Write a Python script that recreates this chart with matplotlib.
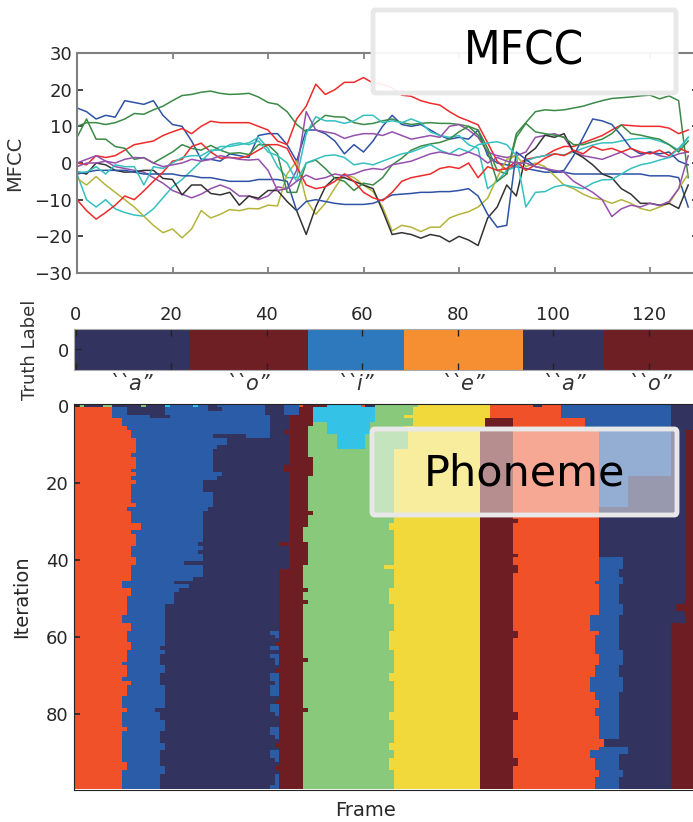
import numpy as np
import matplotlib
matplotlib.use("Agg")
import matplotlib.pyplot as plt
from matplotlib.colors import ListedColormap
from matplotlib.patches import FancyBboxPatch

# ---------------- data ----------------
FRAMES = np.arange(0, 130, 2)

blue_a = [15, 14, 12, 13, 12.5, 17, 16.5, 16, 17, 13,
          10.5, 10, 6, 1, 1, 0.5, 2.5, 2, 1.5, 7.5,
          8, 8, 5, 0.5, 9, 9, 8, 6, 2.5, 5,
          3, 6, 10, 13, 10.5, 10, 10.5, 9, 7.5, 6.5,
          7, 6.5, 9, 2, 0, -0.5, -1, -1.5, -2, -2.5,
          -2.5, -2.5, -3, -3, -3, -3, -3, -3, -3, -3,
          -3.5, -3.5, -3.5, -4, -12]
blue_b = [-3, -2.5, -2, -2, -2, -2, -2.5, -3, -3, -3,
          -3, -3.5, -3.5, -4, -4, -4.5, -5, -5, -5, -4.5,
          -4.5, -4.5, -5, -13, -10.5, -10, -10.5, -11, -11.3, -11.3,
          -11.3, -11, -10, -8.7, -8.5, -8.3, -8, -8, -7.8, -7.8,
          -7.5, -7, -9, -14, -17.5, -17, 3, 1, -1, -1.5,
          -2.5, -2, 2, 7, 12, 11.5, 10.5, 7.5, 4, 2.5,
          3, 2.5, 3, 0.5, -0.5]
green_a = [10, 11, 11, 10.5, 11, 12, 13.5, 13.3, 14.5, 15.5,
           17, 18.4, 18.7, 19.3, 19.6, 19, 18.7, 18.8, 19, 18,
           16.5, 16, 14, 10.5, 8.5, 11, 13, 12.6, 12.5, 11,
           10.5, 10.8, 11.5, 12, 11, 10.5, 10.8, 11, 10.8, 10.8,
           10.5, 10, 9, 4, -2, -3, 8, 11, 14, 14.5,
           14.3, 14.5, 15, 15.5, 16.3, 17, 17.6, 17.8, 18, 18.3,
           18.5, 17.5, 18.3, 17, -4]
green_b = [7, 12, 6.5, 6.5, 4.5, 4, 1, 1.5, 0, 1.5,
           3, 5, 4, 3.5, 4.8, 3.5, 2.6, 2.8, 2.3, 5,
           5, 2.5, -8, -8, 0, 0.8, -1.5, -4.2, -5, -7.5,
           -5.5, -6, -4, -0.5, 1.3, 3.5, 4.6, 5.2, 5.6, 6.5,
           8.5, 10, 7.6, 3, -5, -3, 7, 10.8, 8.5, 8,
           7.6, 7, 5, 5, 5.8, 6.5, 8, 10.4, 8, 7.6,
           7, 6.5, 5, 3, 6]
red_a = [0, -0.5, 2, 1.5, 2, 3.5, 5, 5.5, 6, 7.5,
         8.5, 9.4, 8, 10, 11.4, 11, 11, 11, 11, 10,
         9, 6, 5, 12, 15.5, 21.5, 18.7, 20, 22, 22,
         23.3, 21.8, 21.5, 20.5, 18.5, 18.2, 17, 16.3, 15.8, 14,
         12.5, 11.5, 10.4, 5.5, 0.5, -2, -0.5, 1, 1.5, 2,
         3.5, 4.5, 4.5, 5.5, 6.5, 7.5, 9, 10.4, 10.2, 10,
         10, 10, 9.5, 8, 9]
red_b = [-10, -13, -15.3, -13.5, -11.5, -9, -10, -7.6, -5, -2.5,
         0.5, 1, 4.5, 5.4, 3, 1.3, 1.5, 1.3, 2, 3.5,
         5, 5, 4, -1, -6, -7, -6.5, -5, -3, -5,
         -8, -9.5, -10.3, -8, -5, -4, -3.5, -3, -1.5, -1,
         -1.5, 0, -4, -1, -2, -1.5, 0.5, -2, -0.5, 1.3,
         2.5, 2, 3.5, 2.5, 4.5, 3.5, 4, 3, 4, 3,
         2.5, 3.5, 2, 4, 3]
cyan_a = [-3, -10, -12, -10, -12.5, -13.5, -14.2, -14.5, -12.5, -9.5,
          -6.5, -4.5, -2, 0.5, 3, 4.5, 4.5, 5, 5.5, 7,
          4, -1, -4, -4, 8, 12.6, 11.5, 11.5, 10.8, 11.5,
          13, 13, 11, 11.5, 11, 12, 11, 8.5, 7.5, 7,
          7.5, 5, 4, -7, -5, -2, -1, 0.5, 1.5, 2,
          2.5, 2.2, 3, 4, 4.9, 5.5, 5.5, 6, 6.5, 6.7,
          6.7, 6, 5, 3.5, 7]
cyan_b = [-2.5, -2.5, -1, -3, -0.5, -1, -1, -6, -1, -1.5,
          0, 1.5, 2, 2, 3.5, 3.5, 5, 5.5, 5, 6,
          3, 2, 0, -5, 0, 1, 2, 2.2, 1.5, -0.5,
          0, -0.5, 0.5, 1.5, 2.5, 3, 4, 5, 3.5, 2.5,
          4, 3, 5, 5.5, 5.8, 5, 2, -12, -8, -7.8,
          -6.5, -6, -6.5, -7, -5.5, -4.6, -4.5, -3, -1.5, -0.5,
          0, 0.8, 1.5, 4, 7]
purple_a = [0, 1, 2, 0.5, -1, -1.5, -2, -2.5, -4, -5.5,
            -7.5, -8.5, -9.5, -8.5, -7, -6, -7, -9, -9, -10,
            -9, -6.5, -7, -2, 14, 9, 8.5, 8, 6.7, 7.5,
            8, 8, 7.5, 8.5, 7.5, 6.5, 7, 7.5, 7, 10,
            10.5, 9, 7, 3, 2, 1.5, 2, 3, 7, 7.5,
            8, 7, 3, 2, 1.5, 1, 2, 3, 1.5, 2,
            3, 2, 1.5, 2.5, 3]
purple_b = [-1, 0, 0, 0.5, 0, 1, 1.5, 1.4, 0, -1,
            -0.5, 0, 1, 0.5, 1, 2, 1.5, 1, 0.8, 1,
            -2, -7.5, -7, -5, -3.3, -4.5, -4, -3, -3.5, -3,
            -2, -1.5, -1.8, -0.5, 0, 0.5, 1.5, 2.5, 3, 2.5,
            2, 3, 2, 0, 1.5, 0.5, 0, 0, -1, -1.5,
            -2, -2.5, -5, -6.5, -8, -10, -14.6, -12.5, -11.5, -12,
            -11, -11.6, -10.5, -7, 2]
olive = [-4.2, -6, -3.7, -6, -8, -10, -12, -14.5, -17, -19,
         -18, -20.4, -18, -13, -15, -14, -12.7, -13, -12.4, -12.5,
         -11.5, -11.7, -3, 0.5, -10, -14, -11, -6.8, -3, -4,
         -6, -7.8, -12, -18.5, -17, -17.5, -18.7, -17.5, -17.5, -15,
         -14, -13.3, -12, -9.6, -4, 1, 2, -1, 0, -1,
         -3.5, -6, -7, -8.5, -9.6, -10, -11, -10, -11, -12.4,
         -13, -12, -11, -7, -3]
black = [-2.4, -3, 0, -0.5, -2, -2.5, -2.4, -2, -2, -4.2,
         -4.5, -8.7, -6, -6, -8.3, -8.7, -8, -11.5, -9, -9.6,
         -7.5, -7.5, -10.5, -13, -19.5, -12, -6.5, -4, -4, -5,
         -6, -7, -13, -19.5, -19, -19.5, -20.5, -19.5, -20, -21.5,
         -20, -21, -22.5, -15, -12, -6, -9, 2, 4, 7.6,
         7, 8, 3, 1.5, -0.5, -3, -4, -7, -8.5, -11,
         -11, -11.5, -11, -12.4, -6]

MFCC_SERIES = [blue_a, green_a, red_a, cyan_a, purple_a, olive, black,
               blue_b, green_b, red_b, cyan_b, purple_b]
MFCC_COLORS = ['#2f52a6', '#3b8a47', '#ee2b2b', '#35c0c0', '#9550ab', '#b4b43c', '#333333',
               '#2f52a6', '#3b8a47', '#ee2b2b', '#35c0c0', '#9550ab']

# truth labels
TRUTH_NAMES = ['a', 'o', 'i', 'e', 'a', 'o']
TRUTH_ENDS = [24, 49, 69, 94, 111, 130]
TRUTH_COLORS = {'a': '#32335f', 'o': '#6e1f23', 'i': '#2e79bd', 'e': '#f58f31'}

# inferred phoneme classes: 0 orange-red, 1 blue, 2 navy, 3 maroon, 4 green, 5 yellow, 6 cyan
CLASS_COLORS = ['#f05129', '#2a5ca8', '#32335f', '#6e1e22', '#89c97b', '#f1d93c', '#34c3e6']
N_ITER, N_FRAME = 100, 130
BAND_CLASSES = [0, 1, 2, 3, 4, 5, 3, 0, 1, 2, 3]
# band boundaries: (first iteration, column where next band starts)
B1 = [(0, 8), (4, 10), (6, 11), (7, 12), (9, 13), (13, 12), (14, 13), (17, 12), (18, 13), (19, 12),
      (20, 13), (21, 12), (26, 13), (27, 11), (28, 12), (31, 14), (33, 12), (34, 13), (37, 12),
      (40, 13), (42, 12), (46, 10), (48, 12), (50, 11), (55, 10), (57, 12), (59, 11), (62, 12),
      (64, 11), (67, 10), (68, 11), (71, 10), (72, 12), (73, 11), (76, 10), (79, 11), (80, 10),
      (84, 11), (85, 10), (93, 11), (95, 10)]
B2 = [(0, 40), (3, 41), (9, 32), (11, 30), (12, 29), (18, 31), (19, 30), (20, 27), (23, 29),
      (27, 28), (28, 27), (36, 26), (37, 27), (38, 26), (39, 27), (41, 23), (42, 27), (45, 25),
      (46, 21), (47, 24), (48, 22), (49, 21), (52, 19), (63, 18), (64, 19), (65, 18), (68, 19),
      (70, 18), (73, 19), (79, 17), (80, 18), (82, 19), (85, 18), (88, 19), (90, 18), (94, 19),
      (96, 18)]
B3 = [(0, 47), (3, 45), (7, 44), (8, 45), (16, 44), (18, 45), (36, 43), (37, 45), (43, 43),
      (62, 42), (63, 43), (69, 42), (70, 43), (77, 42), (78, 43), (88, 42), (89, 43), (94, 42),
      (95, 43)]
B4 = [(0, 50), (6, 49), (14, 50), (19, 49), (28, 50), (29, 49), (32, 48), (36, 49), (42, 48),
      (48, 49), (49, 48), (51, 49), (52, 48), (66, 49), (67, 48), (79, 49), (80, 48)]
B5 = [(0, 71), (3, 69), (4, 71), (6, 69), (7, 70), (12, 67), (31, 66), (33, 67), (42, 65),
      (43, 67), (48, 66), (52, 67), (59, 66), (64, 67), (70, 66), (72, 67), (80, 66), (82, 67),
      (88, 66), (90, 67), (92, 66), (95, 67)]
B6 = [(0, 87), (4, 86), (7, 85)]
B7 = [(0, 87), (4, 92), (30, 93), (31, 92), (39, 93), (40, 92), (42, 93), (44, 92), (59, 93),
      (61, 92), (80, 93), (82, 92), (92, 93), (94, 92)]
B8 = [(0, 102), (4, 107), (7, 110), (46, 109), (47, 110), (55, 108), (59, 110), (60, 109),
      (65, 110), (68, 109), (71, 108), (75, 109), (77, 110), (79, 109), (81, 110), (87, 111),
      (89, 110), (90, 108), (92, 109), (95, 110), (97, 109)]
B9 = [(0, 125), (19, 116), (27, 110), (40, 115), (43, 114), (45, 115), (47, 114), (52, 115),
      (55, 114), (64, 115), (68, 114), (71, 115), (75, 114), (87, 111), (89, 116), (91, 114),
      (95, 115), (97, 114)]
B10 = [(0, 130), (7, 128), (52, 126), (54, 128), (57, 125)]
# islands: (iter0, iter1, col0, col1, class)
ISLANDS = [(1, 5, 50, 63, 6), (5, 8, 53, 62, 6), (8, 12, 55, 61, 6),
           (1, 3, 11, 19, 2), (1, 2, 28, 31, 2), (3, 4, 16, 20, 2), (1, 3, 44, 47, 1),
           (8, 9, 29, 36, 2),
           (59, 60, 41, 43, 1), (60, 61, 42, 43, 1), (63, 64, 41, 43, 1), (65, 66, 41, 43, 1),
           (66, 68, 42, 43, 1), (70, 72, 41, 43, 1), (72, 73, 42, 43, 1), (73, 76, 41, 43, 1),
           (78, 80, 41, 43, 1), (80, 81, 42, 43, 1), (84, 86, 41, 43, 1), (86, 87, 42, 43, 1),
           (90, 92, 41, 43, 1), (92, 93, 42, 43, 1), (96, 99, 42, 43, 1), (99, 100, 41, 43, 1)]
# first iteration: (class, end column)
ROW0_RUNS = [(3, 1), (4, 2), (2, 6), (4, 8), (2, 14), (4, 15), (2, 19), (6, 20), (1, 25), (6, 26),
             (1, 28), (2, 30), (1, 40), (2, 44), (1, 47), (0, 48), (3, 53), (6, 60), (0, 61),
             (2, 63), (4, 72), (5, 87), (0, 96), (2, 98), (0, 102), (1, 125), (2, 130)]


def expand(changes):
    arr = np.zeros(N_ITER, dtype=int)
    pts = list(changes) + [(N_ITER, None)]
    for (r, v), (rn, _) in zip(pts[:-1], pts[1:]):
        arr[r:rn] = v
    return arr


bounds = [expand(b) for b in (B1, B2, B3, B4, B5, B6, B7, B8, B9, B10)]
labels = np.zeros((N_ITER, N_FRAME), dtype=int)
for r in range(N_ITER):
    edges = [0] + [int(b[r]) for b in bounds] + [N_FRAME]
    for k, cls in enumerate(BAND_CLASSES):
        labels[r, edges[k]:edges[k + 1]] = cls
for (r0, r1, c0, c1, cls) in ISLANDS:
    labels[r0:r1, c0:c1] = cls
start = 0
for cls, end in ROW0_RUNS:
    labels[0, start:end] = cls
    start = end

# ---------------- figure ----------------
W, H = 693, 822
fig = plt.figure(figsize=(W / 100, H / 100), dpi=100)


def frac(left, top, right, bottom):
    return [left / W, 1 - bottom / H, (right - left) / W, (bottom - top) / H]


TXT = '#262626'
# top MFCC panel
ax1 = fig.add_axes(frac(77, 53, 697.75, 273))
for s, c in zip(MFCC_SERIES, MFCC_COLORS):
    ax1.plot(FRAMES, s, color=c, lw=1.1)
ax1.set_xlim(0, 130)
ax1.set_ylim(-30, 30)
ax1.set_yticks([-30, -20, -10, 0, 10, 20, 30])
ax1.set_xticks([0, 20, 40, 60, 80, 100, 120])
ax1.tick_params(direction='in', top=True, right=True, labelbottom=False, labelsize=13,
                colors=TXT, length=4, width=1.2)
ax1.tick_params(axis='x', colors='#777777')
for sp in ax1.spines.values():
    sp.set_color('#808080')
    sp.set_linewidth(1.5)
ax1.set_ylabel('MFCC', fontsize=14, color='#333333')
ax1.yaxis.set_label_coords(-0.085, 0.5)

# truth strip
ax2 = fig.add_axes(frac(73.5, 329, 694.25, 370))
truth = np.zeros(N_FRAME, dtype=int)
tnames = ['a', 'o', 'i', 'e']
s0 = 0
for nm, e in zip(TRUTH_NAMES, TRUTH_ENDS):
    truth[s0:e] = tnames.index(nm)
    s0 = e
ax2.imshow(truth[None, :], cmap=ListedColormap([TRUTH_COLORS[n] for n in tnames]),
           vmin=-0.5, vmax=3.5, aspect='auto', interpolation='nearest')
ax2.set_xlim(-0.5, 129.5)
ax2.set_xticks([0, 20, 40, 60, 80, 100, 120])
ax2.set_yticks([0])
ax2.tick_params(direction='in', top=True, bottom=True, labeltop=True, labelbottom=False,
                labelsize=13, colors=TXT, length=5, width=1.0)
ax2.tick_params(axis='x', color='#222222')
for sp in ax2.spines.values():
    sp.set_color('#aaaaaa')
ax2.set_ylabel('Truth Label', fontsize=13, color='#333333')
ax2.yaxis.set_label_coords(-0.055, 0.5)
s0 = 0
for nm, e in zip(TRUTH_NAMES, TRUTH_ENDS):
    ax2.text((s0 + e - 1) / 2, -0.33, '``' + nm + '\u201d', transform=ax2.get_xaxis_transform(),
             ha='center', va='center', fontsize=15, style='italic', color='#333333')
    s0 = e

# iteration heatmap
ax3 = fig.add_axes(frac(73.5, 404, 694.25, 789.5))
ax3.imshow(labels, cmap=ListedColormap(CLASS_COLORS), vmin=-0.5, vmax=6.5,
           aspect='auto', interpolation='nearest')
ax3.set_xlim(-0.5, 129.5)
ax3.set_ylim(99.5, -0.5)
ax3.set_xticks([])
ax3.set_yticks([0, 20, 40, 60, 80])
ax3.tick_params(direction='in', labelsize=13, colors=TXT, length=4, width=1.2)
for sp in ax3.spines.values():
    sp.set_color('#222222')
ax3.set_ylabel('Iteration', fontsize=14, color=TXT)
ax3.yaxis.set_label_coords(-0.068, 0.5)
ax3.set_xlabel('Frame', fontsize=14, color=TXT)
ax3.xaxis.set_label_coords(0.47, -0.03)

# overlay boxes
def box(left, top, right, bottom, alpha):
    p = FancyBboxPatch((left / W, 1 - bottom / H), (right - left) / W, (bottom - top) / H,
                       boxstyle='round,pad=0,rounding_size=0.004', transform=fig.transFigure,
                       facecolor=(1, 1, 1, alpha), edgecolor='#e8e8e8', linewidth=3.5,
                       zorder=10)
    fig.patches.append(p)


box(373, 10, 676, 93, 0.93)
fig.text(524 / W, 1 - 52 / H, 'MFCC', ha='center', va='center', fontsize=34,
         family=['DejaVu Sans'], fontstretch='condensed', color='black', zorder=11)
box(372, 429, 677, 515, 0.5)
fig.text(524 / W, 1 - 473 / H, 'Phoneme', ha='center', va='center', fontsize=31,
         family=['DejaVu Sans'], color='black', zorder=11)

fig.savefig('out.png', dpi=100)
